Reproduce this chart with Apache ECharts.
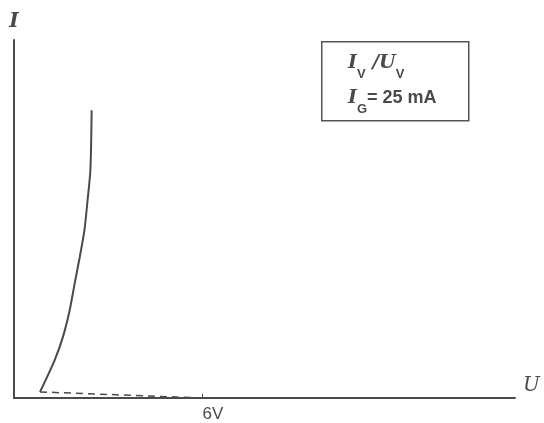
<!DOCTYPE html>
<html>
<head>
<meta charset="utf-8">
<script src="https://cdn.jsdelivr.net/npm/echarts@6/dist/echarts.min.js"></script>
<style>
  html, body { margin: 0; padding: 0; background: #fff; }
  #chart { width: 544px; height: 423px; }
</style>
</head>
<body>
<div id="chart"></div>
<script>
// I/U characteristic (U in volts, I in relative units)
const curveU = [0.83, 1.30, 1.56, 1.78, 1.94, 2.10, 2.25, 2.35, 2.44, 2.48];
const curveI = [1.7, 10.6, 17.0, 24.6, 32.1, 39.4, 46.9, 55.3, 63.7, 80.4];
const dashU = [0.83, 6];
const dashI = [1.7, 0];
const tickValues = [6];
const tickLabels = { 6: "6V" };

const ink = "#4a4a4a";
const chart = echarts.init(document.getElementById("chart"));

chart.setOption({
  animation: false,
  backgroundColor: "#fff",
  grid: { left: 14, right: 29, top: 40, bottom: 25 },
  xAxis: {
    type: "value",
    min: 0,
    max: 16,
    name: "U",
    nameLocation: "end",
    nameGap: 8,
    nameTextStyle: {
      fontFamily: "DejaVu Serif",
      fontStyle: "italic",
      fontSize: 20,
      color: ink,
      verticalAlign: "bottom",
      padding: [0, 0, 2, 0]
    },
    axisLine: { lineStyle: { color: ink, width: 2 } },
    splitLine: { show: false },
    axisTick: {
      customValues: tickValues,
      length: 4,
      inside: true,
      lineStyle: { color: ink }
    },
    axisLabel: {
      customValues: tickValues,
      formatter: v => tickLabels[v] || "",
      fontFamily: "Liberation Sans",
      fontSize: 17,
      color: ink,
      margin: 8,
      padding: [0, 0, 0, 22]
    }
  },
  yAxis: {
    type: "value",
    min: 0,
    max: 100,
    name: "I",
    nameLocation: "end",
    nameGap: 8,
    nameTextStyle: {
      fontFamily: "DejaVu Serif",
      fontStyle: "italic",
      fontWeight: "bold",
      fontSize: 20,
      color: ink
    },
    axisLine: { show: true, lineStyle: { color: ink, width: 2 } },
    splitLine: { show: false },
    axisTick: { show: false },
    axisLabel: { show: false }
  },
  graphic: [
    {
      type: "rect",
      left: 321,
      top: 41,
      shape: { width: 147, height: 79 },
      style: { fill: "#fff", stroke: "#555", lineWidth: 1.5 }
    },
    {
      type: "text",
      left: 348,
      top: 46,
      style: {
        text: "{i|I}{sub|V}{i| /U}{sub|V}\n{i|I}{sub|G}{n|= 25 mA}",
        lineHeight: 35,
        rich: {
          i: { fontFamily: "DejaVu Serif", fontStyle: "italic", fontWeight: "bold", fontSize: 19, fill: ink, lineHeight: 35 },
          sub: { fontFamily: "Liberation Sans", fontWeight: "bold", fontSize: 13, fill: ink, verticalAlign: "bottom", padding: [9, 0, 0, 0], lineHeight: 35 },
          n: { fontFamily: "Liberation Sans", fontWeight: "bold", fontSize: 18, fill: ink, lineHeight: 35 }
        }
      }
    }
  ],
  series: [
    {
      name: "I_V(U_V)",
      type: "line",
      smooth: 0.25,
      symbol: "none",
      lineStyle: { color: ink, width: 2 },
      data: curveU.map((u, k) => [u, curveI[k]])
    },
    {
      name: "Schwelle",
      type: "line",
      symbol: "none",
      lineStyle: { color: ink, width: 1.5, type: [7, 5] },
      data: dashU.map((u, k) => [u, dashI[k]])
    }
  ]
});
</script>
</body>
</html>
